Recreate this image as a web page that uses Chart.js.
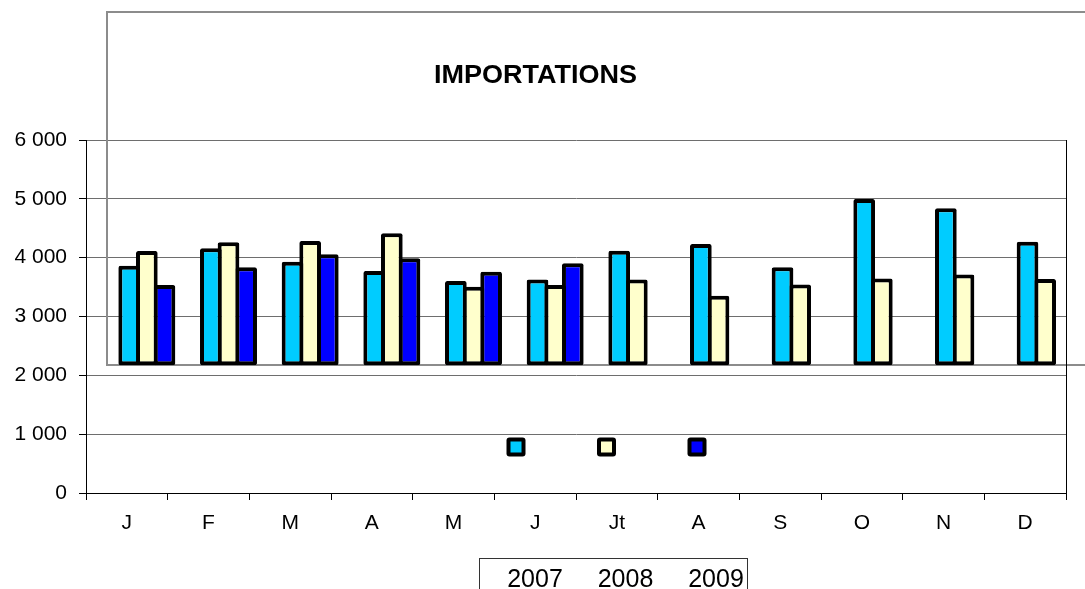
<!DOCTYPE html>
<html><head><meta charset="utf-8">
<script src="https://cdn.jsdelivr.net/npm/chart.js@4.4.0/dist/chart.umd.min.js"></script>
<style>html,body{margin:0;padding:0;background:#fff;overflow:hidden}#wrap{width:1085px;height:589px;position:relative}canvas{display:block}</style>
</head><body><div id="wrap"><canvas id="c" width="1085" height="589"></canvas></div>
<script>
const TITLE = 'IMPORTATIONS';
const months = ['J','F','M','A','M','J','Jt','A','S','O','N','D'];
const years = ['2007','2008','2009'];
const v2007 = [3862,4158,3930,3772,3602,3631,4117,4231,3835,4997,4838,4270];
const v2008 = [4112,4260,4282,4413,3505,3534,3631,3352,3546,3648,3716,3636];
const v2009 = [3534,3835,4056,3988,3760,3903,null,null,null,null,null,null];
const seriesColors = ['#00CCFF','#FFFFCC','#0000FF'];
const BAR_BASE = 2173;
const Y_MIN = 0, Y_MAX = 6000, Y_STEP = 1000;

const FONT = '"Liberation Sans", Arial, sans-serif';
const series = [v2007, v2008, v2009];

function fmtThousands(v){
  return String(v).replace(/\B(?=(\d{3})+(?!\d))/g, ' ');
}

const shiftPlugin = {
  id:'shift',
  afterLayout(chart){
    const s = chart.scales.xb;
    s.left += 20; s.right += 20;
    s.configure();
  }
};

const framePlugin = {
  id:'frame',
  beforeDatasetsDraw(chart){
    const ctx = chart.ctx, xb = chart.scales.xb, y = chart.scales.y, a = chart.chartArea;
    const L = xb.left + 1, B = Math.round(y.getPixelForValue(BAR_BASE)), T = 12;
    ctx.save();
    ctx.strokeStyle = '#8c8c8c'; ctx.lineWidth = 2;
    ctx.beginPath();
    ctx.moveTo(chart.width, T); ctx.lineTo(L, T); ctx.lineTo(L, B); ctx.lineTo(chart.width, B);
    ctx.stroke();
    ctx.strokeStyle = '#000'; ctx.lineWidth = 1;
    ctx.beginPath(); ctx.moveTo(a.right + 0.5, a.top); ctx.lineTo(a.right + 0.5, a.bottom); ctx.stroke();
    ctx.restore();
  },
  afterDraw(chart){
    const ctx = chart.ctx;
    ctx.save();
    ctx.font = 'bold 25px ' + FONT;
    ctx.fillStyle = '#000';
    ctx.textAlign = 'center'; ctx.textBaseline = 'alphabetic';
    ctx.translate(535.5, 83); ctx.scale(1.08, 1);
    ctx.fillText(TITLE, 0, 0);
    ctx.restore();

    ctx.save();
    chart.data.datasets.forEach((ds, i) => {
      const cx = 516 + i * 90.5, cy = 447, s = 19, b = 4;
      ctx.fillStyle = '#000';
      ctx.beginPath(); ctx.roundRect(cx - s/2, cy - s/2, s, s, 3); ctx.fill();
      ctx.fillStyle = ds.backgroundColor;
      ctx.fillRect(cx - s/2 + b, cy - s/2 + b, s - 2*b, s - 2*b);
    });
    ctx.strokeStyle = '#333'; ctx.lineWidth = 1;
    ctx.strokeRect(479.5, 558.5, 268, 60);
    ctx.font = '25px ' + FONT;
    ctx.fillStyle = '#000';
    ctx.textAlign = 'center'; ctx.textBaseline = 'alphabetic';
    chart.data.datasets.forEach((ds, i) => {
      ctx.fillText(ds.label, 535 + i * 90.5, 587);
    });
    ctx.restore();
  }
};

new Chart(document.getElementById('c'), {
  type:'bar',
  data:{
    labels: months,
    datasets: series.map((vals, i) => ({
      label: years[i],
      data: vals.map(v => v == null ? null : [BAR_BASE, v]),
      backgroundColor: seriesColors[i],
      borderColor: '#000',
      borderWidth: 4,
      borderSkipped: false,
      borderRadius: 2,
      xAxisID: 'xb',
      yAxisID: 'y',
      barPercentage: 1.23,
      categoryPercentage: 0.648
    }))
  },
  options:{
    responsive:false, animation:false, devicePixelRatio:1,
    layout:{padding:{top:140, right:19, left:0, bottom:0}},
    plugins:{legend:{display:false}, title:{display:false}, tooltip:{enabled:false}},
    scales:{
      x:{
        type:'category', offset:true,
        grid:{offset:true, drawOnChartArea:false, drawTicks:true, tickLength:7, tickColor:'#000', tickWidth:1},
        border:{color:'#000', width:1},
        ticks:{color:'#000', font:{family:FONT, size:21}, padding:11, maxRotation:0, autoSkip:false},
        afterFit(s){ s.height = 96; }
      },
      xb:{type:'category', display:false, offset:true, grid:{offset:true}},
      y:{
        min:Y_MIN, max:Y_MAX,
        ticks:{stepSize:Y_STEP, color:'#000', font:{family:FONT, size:21}, padding:12, callback:v => fmtThousands(v)},
        grid:{color:'#6e6e6e', lineWidth:1, tickColor:'#000', tickLength:7},
        border:{color:'#000', width:1},
        afterFit(s){ s.width = 86; }
      }
    }
  },
  plugins:[shiftPlugin, framePlugin]
});
</script>
</body></html>
